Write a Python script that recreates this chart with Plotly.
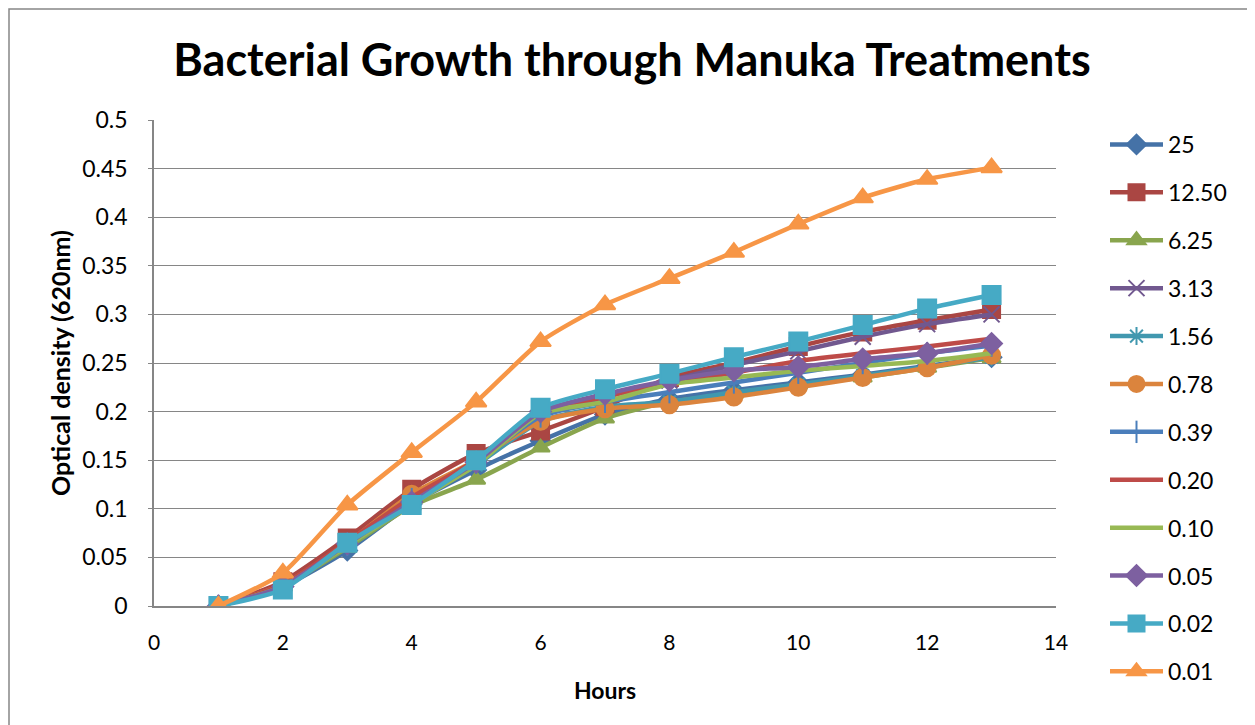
import plotly.graph_objects as go

hours = [1, 2, 3, 4, 5, 6, 7, 8, 9, 10, 11, 12, 13]

series_names = ["25", "12.50", "6.25", "3.13", "1.56", "0.78", "0.39", "0.20", "0.10", "0.05", "0.02", "0.01"]

od_25   = [0, 0.020, 0.057, 0.105, 0.140, 0.170, 0.197, 0.213, 0.222, 0.230, 0.238, 0.247, 0.256]
od_1250 = [0, 0.025, 0.070, 0.120, 0.157, 0.180, 0.205, 0.235, 0.250, 0.267, 0.282, 0.294, 0.305]
od_625  = [0, 0.020, 0.060, 0.103, 0.130, 0.163, 0.193, 0.210, 0.218, 0.228, 0.235, 0.245, 0.255]
od_313  = [0, 0.020, 0.065, 0.110, 0.148, 0.195, 0.215, 0.232, 0.248, 0.262, 0.277, 0.290, 0.300]
od_156  = [0, 0.020, 0.062, 0.105, 0.145, 0.190, 0.205, 0.210, 0.220, 0.228, 0.237, 0.246, 0.256]
od_078  = [0, 0.022, 0.065, 0.115, 0.150, 0.190, 0.203, 0.207, 0.215, 0.225, 0.235, 0.245, 0.258]
od_039  = [0, 0.020, 0.063, 0.110, 0.148, 0.195, 0.210, 0.220, 0.230, 0.240, 0.250, 0.260, 0.268]
od_020  = [0, 0.022, 0.066, 0.112, 0.150, 0.200, 0.215, 0.230, 0.240, 0.252, 0.260, 0.267, 0.275]
od_010  = [0, 0.020, 0.062, 0.105, 0.145, 0.198, 0.210, 0.228, 0.235, 0.242, 0.247, 0.252, 0.260]
od_005  = [0, 0.020, 0.064, 0.107, 0.148, 0.200, 0.218, 0.232, 0.242, 0.246, 0.254, 0.260, 0.270]
od_002  = [0, 0.017, 0.065, 0.104, 0.150, 0.204, 0.223, 0.239, 0.256, 0.272, 0.289, 0.306, 0.320]
od_001  = [0, 0.034, 0.104, 0.158, 0.210, 0.272, 0.310, 0.337, 0.364, 0.393, 0.420, 0.439, 0.451]

all_values = [od_25, od_1250, od_625, od_313, od_156, od_078, od_039, od_020, od_010, od_005, od_002, od_001]

colors = ["#4572A7", "#AA4643", "#89A54E", "#71588F", "#4198AF", "#DB843D",
          "#4A7EBB", "#BE4B48", "#98B954", "#7D60A0", "#46AAC5", "#F79646"]
symbols = ["diamond", "square", "triangle-up", "x-thin-open", "asterisk-open", "circle",
           "line-ns-open", None, None, "diamond", "square", "triangle-up"]
sizes = [15, 17, 16, 16, 15, 17, 16, 0, 0, 16, 18, 18]

FONT = "Lato"

# The page body has an 8px margin, so the figure is placed at (8, 8).
# Geometry below is in figure pixels.
W, H = 1247, 717
L, R = 146, 1048
T, B = 112, 598
MB = 5
gs_h = H - T - MB
y_dom0 = (H - MB - B) / gs_h

fig = go.Figure()
for name, vals, col, sym, sz in zip(series_names, all_values, colors, symbols, sizes):
    if sym is None:
        mode = "lines"
        marker = dict()
    else:
        mode = "lines+markers"
        marker = dict(symbol=sym, size=sz, color=col, line=dict(color=col, width=2))
    fig.add_trace(go.Scatter(
        x=hours, y=vals, name=name, mode=mode, legendgroup=name,
        line=dict(color=col, width=4.5, shape="spline", smoothing=0.6),
        marker=marker,
    ))

fig.update_layout(
    width=W, height=H,
    paper_bgcolor="white", plot_bgcolor="white",
    margin=dict(l=L, r=W - R, t=T, b=MB, autoexpand=False),
    font=dict(family=FONT, color="black", size=22),
    title=dict(text="<b>Bacterial Growth through Manuka Treatments</b>",
               x=624 / W, xanchor="center", y=1 - 52 / H, yanchor="middle",
               font=dict(family=FONT, size=45, color="black")),
    legend=dict(x=(1097 - L) / (R - L), xanchor="left", y=0.995, yanchor="top",
                font=dict(family=FONT, size=23), tracegroupgap=15,
                itemwidth=53, bgcolor="rgba(0,0,0,0)"),
    showlegend=True,
)

fig.update_xaxes(
    range=[0, 14], dtick=2, tick0=0, automargin=False,
    showgrid=False, zeroline=False,
    showline=True, linecolor="#868686", linewidth=1.5,
    ticks="", ticklabelstandoff=17,
    tickfont=dict(family=FONT, size=21),
    title=dict(text="<b>Hours</b>", font=dict(family=FONT, size=23), standoff=30),
)
fig.update_yaxes(
    domain=[y_dom0, 1], automargin=False,
    range=[0, 0.5], dtick=0.05, tick0=0,
    showgrid=True, gridcolor="#868686", gridwidth=1.3,
    zeroline=False,
    showline=True, linecolor="#868686", linewidth=1.5,
    ticks="outside", ticklen=4, tickcolor="#868686", ticklabelstandoff=16,
    tickformat="~g",
    tickfont=dict(family=FONT, size=23),
    title=dict(text="<b>Optical density (620nm)</b>", font=dict(family=FONT, size=25), standoff=4),
)

fig.add_shape(type="rect", xref="paper", yref="paper",
              x0=(1 - L) / (R - L), x1=(W + 5 - L) / (R - L),
              y0=(H - MB - H - 5) / gs_h, y1=(H - MB - 1) / gs_h,
              line=dict(color="#868686", width=1.5), fillcolor="rgba(0,0,0,0)", layer="below")

fig.write_html("out.html")
